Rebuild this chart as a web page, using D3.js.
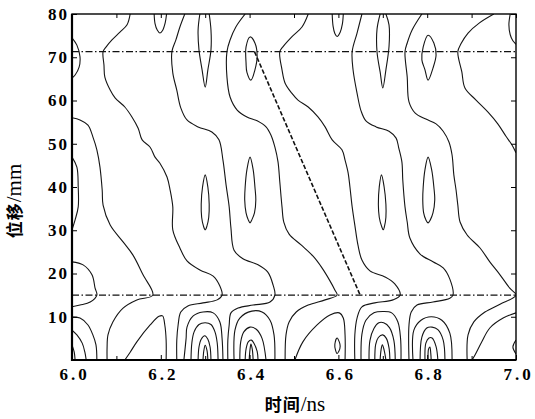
<!DOCTYPE html>
<html>
<head>
<meta charset="utf-8">
<script src="https://cdn.jsdelivr.net/npm/d3@7"></script>
<style>
  body { margin: 0; background: #fff; }
</style>
</head>
<body>
<div id="chart"></div>
<script>
// axis ticks
const xTickLabels = [6.0, 6.2, 6.4, 6.6, 6.8, 7.0];
const xMinorTicks = [6.1, 6.3, 6.5, 6.7, 6.9];
const yTicks = [10, 20, 30, 40, 50, 60, 70, 80];

// reference lines: [time ns, displacement mm]
const guideLevels = [71.3, 15];
const diagonal = [[6.411, 71.3], [6.649, 15]];

// contour lines, [time ns, displacement mm]
const edgeTopLoop = [[6.0, 74.5], [6.011, 72.8], [6.018, 70.1], [6.016, 67.7], [6.007, 65.9], [6.0, 65.2]];
const edgeMidLoop = [[6.0, 46.9], [6.011, 44.6], [6.014, 40], [6.014, 35.4], [6.007, 32.4], [6.0, 30.1]];
const edgeLowLoop = [[6.0, 22.7], [6.025, 22.0], [6.045, 19.7], [6.052, 16.6], [6.056, 15.0], [6.041, 13.4], [6.018, 12.7], [6.0, 12.3]];
const edgeArch1 = [[6.0, 9.9], [6.018, 9.7], [6.036, 8.1], [6.047, 5.8], [6.054, 3.5], [6.056, 0]];
const edgeArch2 = [[6.0, 6.9], [6.011, 5.8], [6.023, 3.9], [6.029, 1.8], [6.032, 0]];
const edgeArch3 = [[6.0, 3.5], [6.005, 1.8], [6.007, 0]];

const lineB = [[6.0, 56.0], [6.018, 55.5], [6.036, 54.3], [6.047, 51.6], [6.056, 48.6], [6.063, 44.6], [6.068, 39.3],
  [6.07, 35.8], [6.086, 31.2], [6.115, 27.3], [6.137, 24.3], [6.16, 19.7], [6.182, 15.0], [6.146, 13.9],
  [6.115, 12.0], [6.092, 8.8], [6.081, 5.8], [6.079, 2.8], [6.079, 0]];
const lineC = [[6.131, 80], [6.124, 77.5], [6.108, 75.8], [6.09, 74.0], [6.077, 72.4], [6.07, 71.3], [6.072, 68.2],
  [6.074, 65.4], [6.086, 62.4], [6.097, 60.6], [6.119, 58.5], [6.135, 56.2], [6.149, 53.6], [6.158, 50.9],
  [6.176, 49.2], [6.187, 46.9], [6.198, 45.5], [6.214, 42.3], [6.221, 39.3], [6.227, 35.4], [6.227, 30.1],
  [6.243, 25.9], [6.259, 22.9], [6.288, 20.8], [6.318, 19.4], [6.333, 17.1], [6.338, 15.0], [6.327, 13.9],
  [6.295, 13.2], [6.261, 12.5], [6.245, 11.1], [6.239, 8.1], [6.236, 4.6], [6.236, 0]];
const lineE = [[6.254, 80], [6.243, 77.0], [6.234, 74.0], [6.225, 71.3], [6.227, 66.4], [6.236, 62.4], [6.245, 58.3],
  [6.259, 55.5], [6.284, 53.9], [6.315, 52.7], [6.331, 50.9], [6.34, 46.2], [6.347, 40.5], [6.354, 35.4],
  [6.358, 30.5], [6.365, 25.4], [6.385, 23.4], [6.419, 22.0], [6.441, 20.3], [6.453, 17.3], [6.457, 15.0],
  [6.446, 13.4], [6.408, 12.7], [6.374, 12.0], [6.358, 10.9], [6.354, 8.1], [6.351, 4.6], [6.351, 0]];
const lineF = [[6.39, 80], [6.369, 77.0], [6.356, 74.0], [6.349, 71.3], [6.349, 65.4], [6.356, 60.8], [6.372, 57.8],
  [6.394, 56.2], [6.417, 55.3], [6.437, 53.9], [6.448, 52.0], [6.457, 49.2], [6.464, 45.8], [6.468, 41.2],
  [6.473, 35.4], [6.477, 31.9], [6.489, 29.1], [6.516, 26.6], [6.543, 24.0], [6.563, 21.3], [6.581, 18.3],
  [6.592, 16.2], [6.597, 15.0], [6.57, 13.9], [6.532, 12.7], [6.505, 11.1], [6.489, 8.8], [6.482, 5.8], [6.48, 0]];
const lineG = [[6.532, 80], [6.518, 77.0], [6.495, 74.7], [6.475, 72.4], [6.468, 71.3], [6.473, 67.1], [6.48, 64.0],
  [6.495, 61.7], [6.509, 60.1], [6.532, 58.5], [6.554, 56.2], [6.57, 53.9], [6.586, 50.9], [6.608, 48.6],
  [6.615, 46.2], [6.622, 43.2], [6.626, 40.0], [6.631, 35.4], [6.637, 31.2], [6.644, 26.6], [6.653, 23.1],
  [6.671, 20.6], [6.705, 19.2], [6.727, 17.6], [6.739, 15.0], [6.723, 13.9], [6.682, 13.2], [6.653, 12.3],
  [6.642, 9.7], [6.637, 5.8], [6.637, 0]];
const lineH = [[6.653, 80], [6.642, 75.6], [6.631, 71.3], [6.633, 67.1], [6.642, 61.7], [6.651, 57.6], [6.662, 55.3],
  [6.685, 53.9], [6.714, 52.9], [6.73, 51.3], [6.736, 49.0], [6.743, 45.8], [6.745, 41.6], [6.75, 35.4],
  [6.755, 31.9], [6.761, 28.2], [6.784, 24.5], [6.813, 22.7], [6.836, 21.3], [6.851, 18.7], [6.858, 15.0],
  [6.851, 14.3], [6.813, 13.4], [6.777, 12.7], [6.764, 11.1], [6.759, 8.1], [6.759, 0]];
const lineI = [[6.788, 80], [6.766, 76.3], [6.755, 73.3], [6.75, 71.3], [6.755, 65.4], [6.759, 59.7], [6.773, 57.1],
  [6.797, 55.7], [6.82, 54.6], [6.836, 52.9], [6.849, 50.4], [6.856, 47.4], [6.86, 42.8], [6.865, 39.3],
  [6.869, 35.8], [6.874, 31.9], [6.89, 28.9], [6.919, 25.9], [6.941, 22.7], [6.964, 19.7], [6.986, 16.6],
  [7.0, 15.0], [6.964, 12.9], [6.93, 11.1], [6.905, 8.8], [6.892, 5.8], [6.89, 0]];
const lineJ = [[6.95, 80], [6.917, 77.9], [6.892, 75.6], [6.876, 73.1], [6.869, 71.3], [6.878, 66.6], [6.885, 62.9],
  [6.91, 60.1], [6.937, 57.3], [6.959, 54.6], [6.977, 51.8], [6.991, 49.7], [7.0, 47.9]];
const edgeRight = [[7.0, 10.9], [6.971, 9.7], [6.941, 7.4], [6.923, 4.2], [6.908, 1.2], [6.901, 0]];
const rightBump = [[7.0, 4.6], [6.993, 3.0], [7.0, 1.4]];

const cap62 = [[6.185, 80], [6.187, 77.8], [6.192, 76.3], [6.198, 75.6], [6.204, 76.2], [6.21, 78], [6.213, 80]];
const cap66 = [[6.586, 80], [6.588, 77.2], [6.592, 75.5], [6.597, 74.8], [6.604, 75.8], [6.609, 77.7], [6.611, 80]];
const capRight = [[6.987, 80], [6.984, 77.5], [6.987, 75.2], [6.993, 73.8], [7.0, 73.0]];
const tall63 = [[6.288, 80], [6.284, 76.3], [6.286, 71.7], [6.293, 67.1], [6.3, 63.1], [6.306, 67.1], [6.313, 71.7], [6.313, 76.3], [6.309, 80]];
const tall67 = [[6.694, 80], [6.687, 76.5], [6.687, 71.2], [6.694, 66.6], [6.7, 62.9], [6.707, 67.1], [6.714, 72.5], [6.714, 77.5], [6.707, 80]];
const hump62 = [[6.119, 0], [6.131, 1.8], [6.146, 4.2], [6.176, 8.1], [6.196, 10.1], [6.204, 10.2], [6.209, 8.1], [6.212, 4.6], [6.212, 0]];
const hump66 = [[6.502, 0], [6.52, 4.2], [6.552, 8.1], [6.581, 10.4], [6.602, 10.9], [6.611, 9.7], [6.615, 5.8], [6.615, 0]];

// closed loops
const loop64up = [[6.401, 74.7], [6.412, 73.3], [6.417, 70.1], [6.412, 67.1], [6.403, 64.7], [6.394, 66.5], [6.392, 68.7], [6.392, 72.4]];
const loop68up = [[6.802, 75.1], [6.815, 73.3], [6.82, 70.5], [6.813, 67.5], [6.802, 64.7], [6.795, 67.1], [6.788, 69.4], [6.791, 72.4]];
const loop63low = [[6.3, 42.8], [6.306, 40], [6.309, 36], [6.308, 33], [6.304, 31], [6.3, 30.1], [6.296, 31], [6.292, 33], [6.291, 36], [6.294, 40]];
const loop67low = [[6.697, 42.8], [6.703, 40], [6.707, 36], [6.707, 33], [6.704, 31], [6.701, 30.1], [6.697, 31], [6.692, 33], [6.69, 36], [6.692, 40]];
const loop64low = [[6.401, 46.9], [6.408, 44], [6.412, 40], [6.414, 37], [6.411, 34], [6.405, 32.4], [6.401, 31.7], [6.397, 32.4], [6.392, 34], [6.389, 37], [6.39, 40], [6.394, 44]];
const loop68low = [[6.802, 46.9], [6.81, 44], [6.815, 40], [6.817, 37], [6.813, 34], [6.807, 32.4], [6.802, 31.7], [6.797, 32.4], [6.792, 34], [6.79, 37], [6.791, 40], [6.795, 44]];
const loop66small = [[6.597, 5.1], [6.602, 4.2], [6.604, 3.2], [6.601, 2.0], [6.597, 1.5], [6.593, 2.5], [6.592, 3.6]];

// arch groups at the bottom
const arches63 = [
  [[6.252, 0], [6.257, 5], [6.259, 7.6], [6.273, 10.2], [6.295, 11.1], [6.318, 10.9], [6.333, 8.8], [6.338, 5], [6.34, 0]],
  [[6.268, 0], [6.27, 4], [6.275, 6.5], [6.286, 8.2], [6.3, 8.6], [6.313, 8.2], [6.322, 6.5], [6.327, 4], [6.329, 0]],
  [[6.284, 0], [6.286, 3], [6.291, 4.8], [6.299, 5.6], [6.306, 4.8], [6.311, 3], [6.313, 0]],
  [[6.295, 0], [6.297, 2.2], [6.3, 3.4], [6.304, 2.2], [6.306, 0]]
];
const arches64 = [
  [[6.365, 0], [6.367, 6.9], [6.378, 9.7], [6.405, 11.3], [6.428, 11.1], [6.446, 9.2], [6.455, 5.8], [6.457, 0]],
  [[6.378, 0], [6.38, 4.2], [6.387, 6.5], [6.401, 7.6], [6.415, 7.1], [6.428, 5], [6.437, 0]],
  [[6.39, 0], [6.392, 2.5], [6.397, 4.2], [6.404, 4.6], [6.41, 3.8], [6.417, 2], [6.419, 0]],
  [[6.399, 0], [6.401, 2.5], [6.403, 3.7], [6.406, 2.5], [6.408, 0]]
];
const arches67 = [
  [[6.651, 0], [6.653, 6], [6.662, 9.2], [6.68, 10.9], [6.7, 11.2], [6.72, 10.9], [6.734, 8.8], [6.74, 5], [6.741, 0]],
  [[6.669, 0], [6.671, 4.5], [6.68, 7.3], [6.691, 8.6], [6.702, 8.6], [6.715, 7.5], [6.725, 4.5], [6.728, 0]],
  [[6.682, 0], [6.684, 3.6], [6.69, 5.2], [6.7, 5.8], [6.708, 5], [6.714, 2.8], [6.716, 0]],
  [[6.694, 0], [6.696, 2.3], [6.699, 3.5], [6.703, 2.3], [6.707, 0]]
];
const arches68 = [
  [[6.768, 0], [6.77, 6.9], [6.786, 9.2], [6.809, 10], [6.833, 9.2], [6.851, 6.2], [6.856, 0]],
  [[6.784, 0], [6.788, 5.3], [6.799, 7.4], [6.811, 7.6], [6.824, 7], [6.836, 4.6], [6.84, 0]],
  [[6.795, 0], [6.797, 3.9], [6.804, 5.1], [6.811, 5.1], [6.82, 3.1], [6.824, 0]],
  [[6.802, 0], [6.803, 2.5], [6.806, 3.0], [6.808, 1.6], [6.809, 0]]
];

const openLines = [edgeTopLoop, edgeMidLoop, edgeLowLoop, edgeArch1, edgeArch2, edgeArch3,
  lineB, lineC, lineE, lineF, lineG, lineH, lineI, lineJ, edgeRight, rightBump,
  cap62, cap66, capRight, tall63, tall67, hump62, hump66,
  ...arches63, ...arches64, ...arches67, ...arches68];
const closedLines = [loop64up, loop68up, loop63low, loop67low, loop64low, loop68low, loop66small];

const W = 535, H = 419;
const margin = { left: 72, right: 19, top: 14, bottom: 59 };
const width = W - margin.left - margin.right;
const height = H - margin.top - margin.bottom;
const serif = "'Liberation Serif', 'Times New Roman', serif";
const cjk = "'Noto Sans CJK SC', sans-serif";

const svg = d3.select('#chart').append('svg')
  .attr('width', W)
  .attr('height', H)
  .append('g')
  .attr('transform', `translate(${margin.left},${margin.top})`);

const x = d3.scaleLinear().domain([6, 7]).range([0, width]);
const y = d3.scaleLinear().domain([0, 80]).range([height, 0]);

svg.append('clipPath').attr('id', 'plot')
  .append('rect').attr('width', width).attr('height', height);

const plot = svg.append('g').attr('clip-path', 'url(#plot)');

const openLine = d3.line().x(d => x(d[0])).y(d => y(d[1])).curve(d3.curveCatmullRom.alpha(0.5));
const closedLine = d3.line().x(d => x(d[0])).y(d => y(d[1])).curve(d3.curveCatmullRomClosed.alpha(0.5));

plot.selectAll('path.open')
  .data(openLines)
  .enter()
  .append('path')
  .attr('class', 'open')
  .attr('d', openLine)
  .attr('fill', 'none')
  .attr('stroke', '#151515')
  .attr('stroke-width', 1.1);

plot.selectAll('path.closed')
  .data(closedLines)
  .enter()
  .append('path')
  .attr('class', 'closed')
  .attr('d', closedLine)
  .attr('fill', 'none')
  .attr('stroke', '#151515')
  .attr('stroke-width', 1.1);

// dash-dot guide lines
plot.selectAll('line.guide')
  .data(guideLevels)
  .enter()
  .append('line')
  .attr('class', 'guide')
  .attr('x1', 0)
  .attr('x2', width)
  .attr('y1', d => y(d))
  .attr('y2', d => y(d))
  .attr('stroke', '#111')
  .attr('stroke-width', 1.2)
  .attr('stroke-dasharray', '7,2.5,1.5,2.5');

plot.append('path')
  .datum(diagonal)
  .attr('d', d3.line().x(d => x(d[0])).y(d => y(d[1])))
  .attr('fill', 'none')
  .attr('stroke', '#111')
  .attr('stroke-width', 1.6)
  .attr('stroke-dasharray', '4.5,2');

// axes, ticks pointing inward
const fontSize = 17;
const styleLabels = (g, spacing) => g.selectAll('text')
  .attr('font-family', serif)
  .attr('font-size', fontSize)
  .attr('font-weight', 'bold')
  .attr('letter-spacing', spacing)
  .attr('fill', '#000');

svg.append('g')
  .attr('transform', `translate(0,${height})`)
  .call(d3.axisBottom(x).tickValues(xTickLabels).tickSize(-5).tickPadding(8).tickFormat(d3.format('.1f')))
  .call(g => g.select('.domain').remove())
  .call(g => styleLabels(g, 3).attr('dx', 2));
svg.append('g')
  .attr('transform', `translate(0,${height})`)
  .call(d3.axisBottom(x).tickValues(xMinorTicks).tickSize(-4).tickFormat(''))
  .call(g => g.select('.domain').remove());
svg.append('g')
  .call(d3.axisTop(x).tickValues(xTickLabels.concat(xMinorTicks)).tickSize(-4).tickFormat(''))
  .call(g => g.select('.domain').remove());
svg.append('g')
  .call(d3.axisLeft(y).tickValues(yTicks).tickSize(-5).tickPadding(3))
  .call(g => g.select('.domain').remove())
  .call(g => styleLabels(g, 2));
svg.append('g')
  .attr('transform', `translate(${width},0)`)
  .call(d3.axisRight(y).tickValues(yTicks).tickSize(-5).tickFormat(''))
  .call(g => g.select('.domain').remove());

// frame
svg.append('rect')
  .attr('width', width)
  .attr('height', height)
  .attr('fill', 'none')
  .attr('stroke', '#000')
  .attr('stroke-width', 1.4);
svg.append('path')
  .attr('d', `M0,0V${height}H${width}`)
  .attr('fill', 'none')
  .attr('stroke', '#000')
  .attr('stroke-width', 2.2);

// axis titles: CJK part plus serif unit
const xTitle = svg.append('text')
  .attr('x', width / 2 + 1)
  .attr('y', height + 51)
  .attr('text-anchor', 'middle')
  .attr('fill', '#000');
xTitle.append('tspan').attr('font-family', cjk).attr('font-size', 17).attr('font-weight', 'bold').attr('letter-spacing', 1).text('时间');
xTitle.append('tspan').attr('font-family', serif).attr('font-size', 21).text('/ns');

const yTitle = svg.append('text')
  .attr('transform', `translate(${-51},${height / 2 + 14}) rotate(-90)`)
  .attr('text-anchor', 'middle')
  .attr('fill', '#000');
yTitle.append('tspan').attr('font-family', cjk).attr('font-size', 17).attr('font-weight', 'bold').attr('letter-spacing', 1).text('位移');
yTitle.append('tspan').attr('font-family', serif).attr('font-size', 21).text('/mm');
</script>
</body>
</html>
